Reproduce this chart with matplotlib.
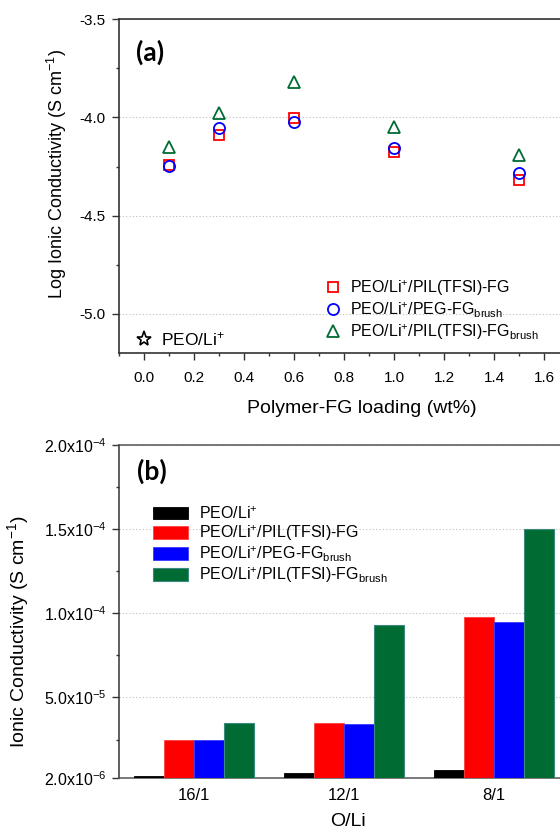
import numpy as np
import matplotlib
matplotlib.use("Agg")
import matplotlib.pyplot as plt
from matplotlib.lines import Line2D
from matplotlib.ticker import MultipleLocator, FixedLocator, FuncFormatter

plt.rcParams['font.family'] = ['Liberation Sans', 'DejaVu Sans']
plt.rcParams['mathtext.fontset'] = 'custom'
plt.rcParams['mathtext.rm'] = 'Liberation Sans'
plt.rcParams['mathtext.it'] = 'Liberation Sans:italic'
plt.rcParams['mathtext.bf'] = 'Liberation Sans:bold'

# (a) log conductivity vs filler loading
loading = [0.1, 0.3, 0.6, 1.0, 1.5]
log_pil_fg = [-4.24, -4.09, -4.005, -4.175, -4.32]
log_peg_brush = [-4.246, -4.053, -4.024, -4.156, -4.285]
log_pil_brush = [-4.15, -3.975, -3.82, -4.05, -4.19]

# (b) conductivity vs O/Li ratio
ratios = ["16/1", "12/1", "8/1"]
cond_peo = [3.2e-6, 5.1e-6, 7.1e-6]
cond_pil_fg = [2.5e-5, 3.5e-5, 9.8e-5]
cond_peg_brush = [2.5e-5, 3.4e-5, 9.5e-5]
cond_pil_brush = [3.5e-5, 9.3e-5, 1.5e-4]

lbl_peo = r"PEO/Li$^{+}$"
lbl_pil = r"PEO/Li$^{+}$/PIL(TFSI)-FG"
lbl_peg = r"PEO/Li$^{+}$/PEG-FG$_{\mathrm{brush}}$"
lbl_pilb = r"PEO/Li$^{+}$/PIL(TFSI)-FG$_{\mathrm{brush}}$"

RED = "#ff0000"
BLUE = "#0000ff"
GREEN = "#006b33"
SPINE = "#333333"

fig = plt.figure(figsize=(5.6, 8.33), dpi=100)
ax1 = fig.add_axes([0.2125, 0.5762, 0.8036, 0.4006])
ax2 = fig.add_axes([0.2125, 0.0657, 0.8036, 0.4001])

# ---- panel (a)
ax1.plot(loading, log_pil_fg, ls="none", marker="s", ms=7.2, mfc="none",
         mec=RED, mew=1.3, label=lbl_pil, zorder=3)
ax1.plot(loading, log_peg_brush, ls="none", marker="o", ms=8, mfc="none",
         mec=BLUE, mew=1.3, label=lbl_peg, zorder=4)
ax1.plot(loading, log_pil_brush, ls="none", marker="^", ms=9, mfc="none",
         mec=GREEN, mew=1.3, label=lbl_pilb, zorder=3)

ax1.set_xlim(-0.1, 1.7)
ax1.set_ylim(-5.2, -3.5)
ax1.xaxis.set_major_locator(MultipleLocator(0.2))
ax1.xaxis.set_minor_locator(MultipleLocator(0.1))
ax1.yaxis.set_major_locator(MultipleLocator(0.5))
ax1.yaxis.set_minor_locator(MultipleLocator(0.25))
ax1.xaxis.set_major_formatter(FuncFormatter(lambda v, p: f"{v:.1f}"))
ax1.yaxis.set_major_formatter(FuncFormatter(lambda v, p: f"{v:.1f}".replace("\u2212", "-")))
ax1.tick_params(axis="both", which="both", direction="out", colors=SPINE, labelcolor="black")
ax1.tick_params(axis="both", which="major", length=5, width=1, labelsize=11)
ax1.tick_params(axis="both", which="minor", length=2.5, width=1)
ax1.tick_params(axis="x", pad=8)
ax1.tick_params(axis="y", pad=5)
ax1.grid(axis="y", which="major", ls=(0, (1, 2)), color="#bdbdbd", lw=0.8)
for s in ["left", "bottom", "top"]:
    ax1.spines[s].set_color(SPINE)
    ax1.spines[s].set_linewidth(1.2)
ax1.spines["right"].set_visible(False)

ax1.set_xlabel("Polymer-FG loading (wt%)", fontsize=14)
ax1.xaxis.set_label_coords(0.54, -0.14)
ax1.set_ylabel(r"Log Ionic Conductivity (S cm$^{-1}$)", fontsize=13)
ax1.yaxis.set_label_coords(-0.11, 0.536)
ax1.text(0.038, 0.902, "(a)", transform=ax1.transAxes, fontsize=19,
         fontweight="bold", family=["Lato", "DejaVu Sans"], va="center")

leg1 = ax1.legend(loc="lower left", bbox_to_anchor=(0.44, 0.01), frameon=False,
                  fontsize=11.5, handlelength=1.0, handletextpad=0.55,
                  labelspacing=0.15, borderaxespad=0.3, borderpad=0.2)
ax1.add_artist(leg1)
star = Line2D([], [], ls="none", marker="*", ms=11, mfc="none", mec="black", mew=1.2)
ax1.legend([star], [lbl_peo], loc="lower left", bbox_to_anchor=(0.018, -0.012),
           frameon=False, fontsize=12.5, handlelength=1.0, handletextpad=0.45,
           borderaxespad=0.3, borderpad=0.2)

# ---- panel (b)
x = np.arange(len(ratios))
w = 0.2
ax2.bar(x - 1.5 * w, cond_peo, w, color="black", edgecolor="black", lw=0.6, label=lbl_peo, zorder=3)
ax2.bar(x - 0.5 * w, cond_pil_fg, w, color=RED, edgecolor="#ff4040", lw=0.6, label=lbl_pil, zorder=3)
ax2.bar(x + 0.5 * w, cond_peg_brush, w, color=BLUE, edgecolor="#3a3aff", lw=0.6, label=lbl_peg, zorder=3)
ax2.bar(x + 1.5 * w, cond_pil_brush, w, color=GREEN, edgecolor="#3a8a80", lw=0.8, label=lbl_pilb, zorder=3)

ax2.set_xlim(-0.5, 2.5)
ax2.set_ylim(2e-6, 2e-4)
ax2.set_xticks(x)
ax2.set_xticklabels(ratios)
ax2.yaxis.set_major_locator(FixedLocator([2e-6, 5e-5, 1e-4, 1.5e-4, 2e-4]))
ax2.yaxis.set_minor_locator(FixedLocator([2.5e-5, 7.5e-5, 1.25e-4, 1.75e-4]))
ytick_text = [r"2.0x10$^{-6}$", r"5.0x10$^{-5}$", r"1.0x10$^{-4}$",
              r"1.5x10$^{-4}$", r"2.0x10$^{-4}$"]
ax2.set_yticklabels(ytick_text)
ax2.tick_params(axis="x", which="both", length=0, labelsize=12, pad=7)
ax2.tick_params(axis="y", which="both", direction="out", colors=SPINE, labelcolor="black")
ax2.tick_params(axis="y", which="major", length=5, width=1, labelsize=11.5, pad=4)
ax2.tick_params(axis="y", which="minor", length=2.5, width=1)
ax2.grid(axis="y", which="major", ls=(0, (1, 2)), color="#bdbdbd", lw=0.8, zorder=0)
ax2.set_axisbelow(True)
for s in ["left", "bottom", "top"]:
    ax2.spines[s].set_color("#555555")
    ax2.spines[s].set_linewidth(1.1)
ax2.spines["left"].set_color(SPINE)
ax2.spines["right"].set_visible(False)

ax2.set_xlabel("O/Li", fontsize=14)
ax2.xaxis.set_label_coords(0.509, -0.105)
ax2.set_ylabel(r"Ionic Conductivity (S cm$^{-1}$)", fontsize=14)
ax2.yaxis.set_label_coords(-0.195, 0.44)
ax2.text(0.04, 0.92, "(b)", transform=ax2.transAxes, fontsize=19,
         fontweight="bold", family=["Lato", "DejaVu Sans"], va="center")

ax2.legend(loc="upper left", bbox_to_anchor=(0.075, 0.82), frameon=False,
           fontsize=11.5, handlelength=2.2, handleheight=0.86, handletextpad=0.7,
           labelspacing=0.1, borderaxespad=0.0, borderpad=0.0)

fig.savefig("out.png", dpi=100)
